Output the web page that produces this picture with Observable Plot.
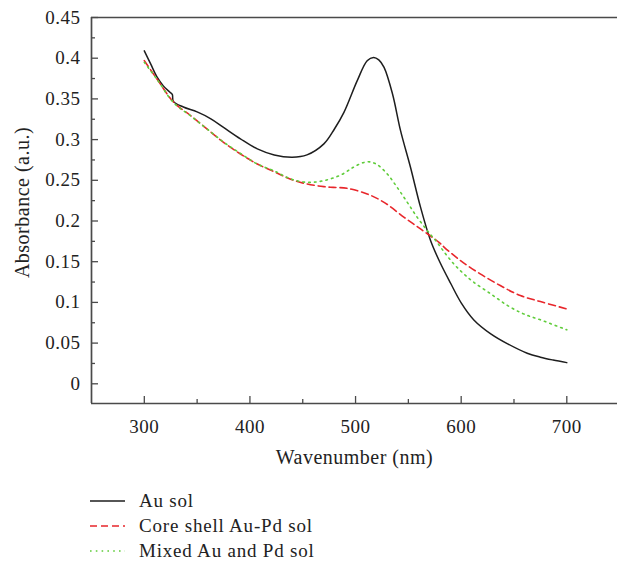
<!DOCTYPE html>
<html><head><meta charset="utf-8">
<script src="https://cdn.jsdelivr.net/npm/d3@7"></script>
<script src="https://cdn.jsdelivr.net/npm/@observablehq/plot@0.6"></script>
<style>
body{margin:0;background:#fff;font-family:"Liberation Serif",serif;color:#222;}
#chart{width:617px;position:relative;}
#chart svg text{letter-spacing:0.5px;}
#chart svg text.xlab{letter-spacing:0.8px;}
#legend{position:relative;width:617px;height:82px;}
.row{position:absolute;left:0;height:26px;display:flex;align-items:center;font-size:19px;letter-spacing:0.8px;white-space:nowrap;}
.row svg{margin-left:90px;margin-right:14px;}
</style></head><body>
<div id="chart"></div>
<div id="legend"></div>
<script>
// ---- data ----
const seriesNames = ["Au sol", "Core shell Au-Pd sol", "Mixed Au and Pd sol"];
const seriesColors = ["#1e1e1e", "#e8262b", "#5fcc3a"];
const seriesDash = [null, "7,4", "1.6,4.2"];

const auWl = [300,306,312,318,324,326.5,327.5,337,350,363,375,391,407,423,440,454,470,480,489,501.6,511,517,522,527,535,542.6,552,561.5,571,580,590,600,612,628,644,662.5,675,687,700];
const auAbs = [0.409,0.393,0.377,0.366,0.3585,0.3555,0.347,0.340,0.334,0.3255,0.315,0.301,0.2886,0.2812,0.2784,0.2812,0.2947,0.313,0.3334,0.3724,0.3969,0.401,0.398,0.3887,0.356,0.311,0.266,0.217,0.176,0.149,0.1235,0.0995,0.0785,0.0614,0.0491,0.0376,0.0327,0.0292,0.026];

const csWl = [300,312,328,344,359.5,375,391,407,423,438,454,470,479,492,511,527,546,561.5,579,584,599.4,618,637,656,675,700];
const csAbs = [0.397,0.3744,0.3457,0.3293,0.313,0.2966,0.2823,0.27,0.2605,0.2516,0.2455,0.2422,0.2413,0.2401,0.2332,0.2229,0.2045,0.1903,0.1738,0.1677,0.1513,0.135,0.1207,0.1084,0.101,0.092];

const mxWl = [300,312,328,344,359.5,375,391,407,423,438,454,470,486,498,508,514,520.5,530,539.4,549,558.4,568,577,585,593,602.5,612,628,644,659,675,700];
const mxAbs = [0.395,0.374,0.345,0.329,0.313,0.297,0.283,0.27,0.2615,0.252,0.2475,0.2496,0.2565,0.266,0.272,0.2725,0.2692,0.2578,0.2413,0.2229,0.2045,0.1882,0.174,0.160,0.1473,0.135,0.1247,0.1105,0.0961,0.0859,0.0786,0.0663];

const xDomain = [250, 748];
const yDomain = [-0.0242, 0.45];
const xMajor = [300, 400, 500, 600, 700];
const xMinor = [350, 450, 550, 650];
const yMajor = [0, 0.05, 0.1, 0.15, 0.2, 0.25, 0.3, 0.35, 0.4, 0.45];
const yMinor = [0.025, 0.075, 0.125, 0.175, 0.225, 0.275, 0.325, 0.375, 0.425];
const xLabel = "Wavenumber (nm)";
const yLabel = "Absorbance (a.u.)";

// ---- build ----
const toRows = (wl, ab) => wl.map((w, i) => ({wl: w, v: ab[i]}));
const series = [toRows(auWl, auAbs), toRows(csWl, csAbs), toRows(mxWl, mxAbs)];
const axisColor = "#4a4a4a";
const fmt = d => String(+d.toFixed(3));

const lineMarks = series.map((s, i) => Plot.line(s, {
  x: "wl", y: "v", curve: "catmull-rom",
  stroke: seriesColors[i], strokeWidth: i === 0 ? 1.5 : 1.6,
  strokeDasharray: seriesDash[i]
}));

const plot = Plot.plot({
  width: 617, height: 480,
  marginTop: 17, marginBottom: 77, marginLeft: 91, marginRight: 0,
  style: {fontFamily: '"Liberation Serif", serif', fontSize: "19px", color: "#222", background: "#fff", overflow: "visible"},
  x: {domain: xDomain},
  y: {domain: yDomain},
  marks: [
    Plot.axisY(yMinor, {tickSize: -4, tickFormat: () => "", stroke: axisColor, strokeWidth: 1.3, label: null}),
    Plot.axisY(yMajor, {tickSize: -7, tickPadding: 18, tickFormat: fmt, stroke: axisColor, strokeWidth: 1.3, label: null}),
    Plot.axisX(xMinor, {tickSize: -4, tickFormat: () => "", stroke: axisColor, strokeWidth: 1.3, label: null}),
    Plot.axisX(xMajor, {tickSize: -7, tickPadding: 22.5, tickFormat: fmt, stroke: axisColor, strokeWidth: 1.3, label: null}),
    Plot.ruleX([xDomain[0]], {stroke: axisColor, strokeWidth: 1.7}),
    Plot.ruleY(yDomain, {stroke: axisColor, strokeWidth: 1.7}),
    ...lineMarks,
    Plot.text([yLabel], {text: d => d, frameAnchor: "left", rotate: -90, dx: -69, dy: -8, lineAnchor: "middle", textAnchor: "middle", fill: "#222", fontSize: 20}),
    Plot.text([xLabel], {text: d => d, frameAnchor: "bottom", dy: 54, lineAnchor: "middle", textAnchor: "middle", fill: "#222", fontSize: 20, className: "xlab"})
  ]
});
document.getElementById("chart").append(plot);

// ---- legend ----
const legend = d3.select("#legend");
const rowCenters = [20.5, 46, 71];
seriesNames.forEach((name, i) => {
  const row = legend.append("div").attr("class", "row").style("top", (rowCenters[i] - 13) + "px");
  const s = row.append("svg").attr("width", 35).attr("height", 10);
  s.append("line").attr("x1", 0).attr("x2", 35).attr("y1", 5).attr("y2", 5)
    .attr("stroke", seriesColors[i]).attr("stroke-width", 1.6)
    .attr("stroke-dasharray", seriesDash[i]);
  row.append("span").text(name);
});
</script>
</body></html>
